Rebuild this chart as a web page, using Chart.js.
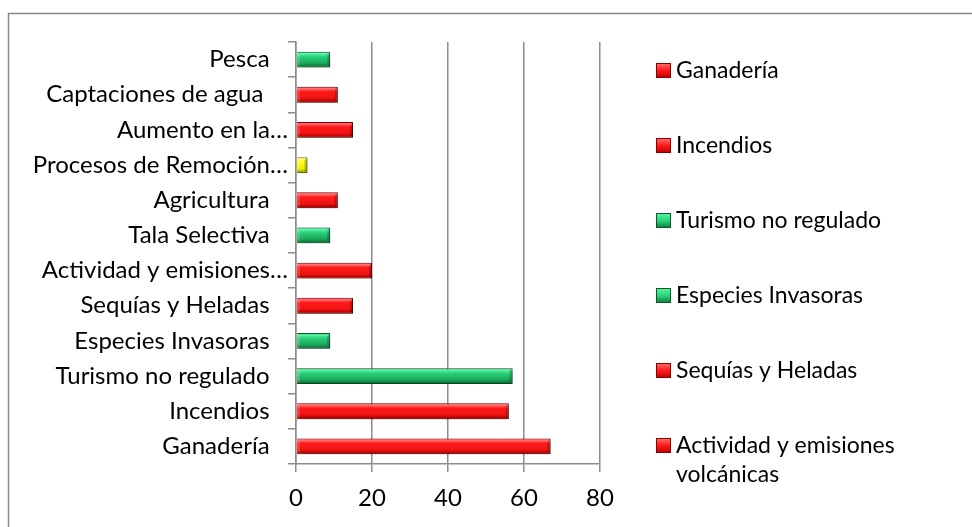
<!DOCTYPE html>
<html>
<head>
<meta charset="utf-8">
<script src="https://cdn.jsdelivr.net/npm/chart.js@4/dist/chart.umd.min.js"></script>
<style>
  html, body { margin: 0; padding: 0; background: #fff; }
  #wrap { width: 972px; height: 527px; position: relative; }
</style>
</head>
<body>
<div id="wrap"><canvas id="amenazas"></canvas></div>
<script>
// categories, bottom to top
var categorias = [
    "Ganadería", "Incendios", "Turismo no regulado", "Especies Invasoras",
    "Sequías y Heladas", "Actividad y emisiones…", "Tala Selectiva",
    "Agricultura", "Procesos de Remoción…", "Aumento en la…",
    "Captaciones de agua ", "Pesca"
];
var valores = [67, 56, 57, 9, 15, 20, 9, 11, 3, 15, 11, 9];
var tipos = ["r", "r", "g", "g", "r", "r", "g", "r", "y", "r", "r", "g"];
var leyenda = [
    "Ganadería", "Incendios", "Turismo no regulado", "Especies Invasoras",
    "Sequías y Heladas", ["Actividad y emisiones", "volcánicas"]
];
var ticksX = [0, 20, 40, 60, 80];

var paleta = {
    r: { top: "#e03030", hi: "#ff7272", mid: "#ff1a1a", body: "#ee1414", lo: "#b80000", edge: "#8a0000" },
    g: { top: "#20a060", hi: "#5cf7a8", mid: "#2cd47c", body: "#1aa85c", lo: "#0c7a3c", edge: "#0a5a2c" },
    y: { top: "#d8d800", hi: "#ffff80", mid: "#ffff20", body: "#eeee00", lo: "#b0b000", edge: "#8a8a00" }
};
var FONT = "Lato, 'Liberation Sans', sans-serif";

// labels cut with an ellipsis let the "…" hang past the others,
// so pad the full ones with spaces of about the same width
var medidor = document.createElement("canvas").getContext("2d");
medidor.font = "24px " + FONT;
var nEspacios = Math.max(0, Math.round(medidor.measureText("…").width / medidor.measureText(" ").width));
function etiquetaY(i) {
    var t = categorias[i];
    if (t.slice(-1) === "…") return t;
    return t + " ".repeat(nEspacios);
}

function barFill(ctx) {
    var chart = ctx.chart;
    var p = paleta[tipos[ctx.dataIndex]];
    var y = chart.scales && chart.scales.y;
    var cy = y ? y.getPixelForValue(ctx.dataIndex) : NaN;
    if (!isFinite(cy)) return p.body;
    var g = chart.ctx.createLinearGradient(0, cy - 8, 0, cy + 8);
    g.addColorStop(0, p.top);
    g.addColorStop(0.12, p.hi);
    g.addColorStop(0.3, p.mid);
    g.addColorStop(0.72, p.body);
    g.addColorStop(0.9, p.lo);
    g.addColorStop(1, p.edge);
    return g;
}

// soft drop shadow under the bars, then a bevel on both ends
var sombra = {
    id: "sombra",
    beforeDatasetsDraw: function (chart) {
        var c = chart.ctx;
        c.save();
        c.shadowColor = "rgba(0,0,0,0.35)";
        c.shadowBlur = 5;
        c.shadowOffsetX = 2;
        c.shadowOffsetY = 3;
    },
    afterDatasetsDraw: function (chart) {
        var c = chart.ctx;
        c.restore();
        c.save();
        chart.getDatasetMeta(0).data.forEach(function (bar) {
            var pr = bar.getProps(["x", "y", "base", "height"], true);
            var t = pr.y - pr.height / 2, b = pr.y + pr.height / 2;
            var l = pr.base, r = pr.x, d = 3;
            c.fillStyle = "rgba(0,0,0,0.22)";
            c.beginPath();
            c.moveTo(r, t); c.lineTo(r, b); c.lineTo(r - d, b - d); c.lineTo(r - d, t + d);
            c.closePath(); c.fill();
            c.fillStyle = "rgba(255,255,255,0.18)";
            c.beginPath();
            c.moveTo(l, t); c.lineTo(l, b); c.lineTo(l + d, b - d); c.lineTo(l + d, t + d);
            c.closePath(); c.fill();
        });
        c.restore();
    }
};

// outer frame + legend on the right
var marco = {
    id: "marco",
    afterDraw: function (chart) {
        var c = chart.ctx;
        c.save();
        c.strokeStyle = "#888";
        c.lineWidth = 1.5;
        c.beginPath();
        c.moveTo(8.5, 600);
        c.lineTo(8.5, 13.5);
        c.lineTo(990, 13.5);
        c.stroke();

        c.font = "23px " + FONT;
        c.textBaseline = "middle";
        leyenda.forEach(function (txt, i) {
            var y = 70 + i * 75;
            var p = paleta[tipos[i]];
            var g = c.createLinearGradient(0, y - 7, 0, y + 8);
            g.addColorStop(0, p.hi);
            g.addColorStop(0.5, p.mid);
            g.addColorStop(1, p.lo);
            c.fillStyle = g;
            c.fillRect(656, y - 7, 15, 15);
            c.strokeStyle = p.edge;
            c.lineWidth = 1;
            c.strokeRect(656.5, y - 6.5, 14, 14);
            c.fillStyle = "#000";
            var lines = Array.isArray(txt) ? txt : [txt];
            lines.forEach(function (l, k) {
                c.fillText(l, 676, y + 1 + k * 29);
            });
        });
        c.restore();
    }
};

new Chart(document.getElementById("amenazas"), {
    type: "bar",
    data: {
        labels: categorias,
        datasets: [{
            data: valores,
            backgroundColor: barFill,
            borderColor: function (ctx) { return paleta[tipos[ctx.dataIndex]].edge; },
            borderWidth: 1,
            barPercentage: 0.45,
            categoryPercentage: 1
        }]
    },
    plugins: [sombra, marco],
    options: {
        indexAxis: "y",
        responsive: true,
        maintainAspectRatio: false,
        animation: false,
        layout: { padding: { left: 0, right: 372, top: 42, bottom: 3 } },
        plugins: {
            legend: { display: false },
            tooltip: { enabled: false }
        },
        scales: {
            x: {
                min: 0,
                max: 80,
                afterBuildTicks: function (axis) {
                    axis.ticks = ticksX.map(function (v) { return { value: v }; });
                },
                grid: {
                    color: "#8c8c8c",
                    lineWidth: 1.5,
                    tickLength: 8,
                    drawTicks: true
                },
                border: { display: true, color: "#8c8c8c", width: 1.5 },
                ticks: {
                    color: "#000",
                    padding: 14,
                    font: { family: FONT, size: 24, lineHeight: 1 }
                }
            },
            y: {
                reverse: true,
                afterFit: function (axis) { axis.width = 296; },
                grid: {
                    offset: true,
                    drawOnChartArea: false,
                    color: "#8c8c8c",
                    lineWidth: 1.5,
                    tickLength: 8
                },
                border: { display: true, color: "#8c8c8c", width: 1.5 },
                ticks: {
                    color: "#000",
                    padding: 0,
                    autoSkip: false,
                    font: { family: FONT, size: 24 },
                    callback: function (v, i) { return etiquetaY(i); }
                }
            }
        }
    }
});
</script>
</body>
</html>
